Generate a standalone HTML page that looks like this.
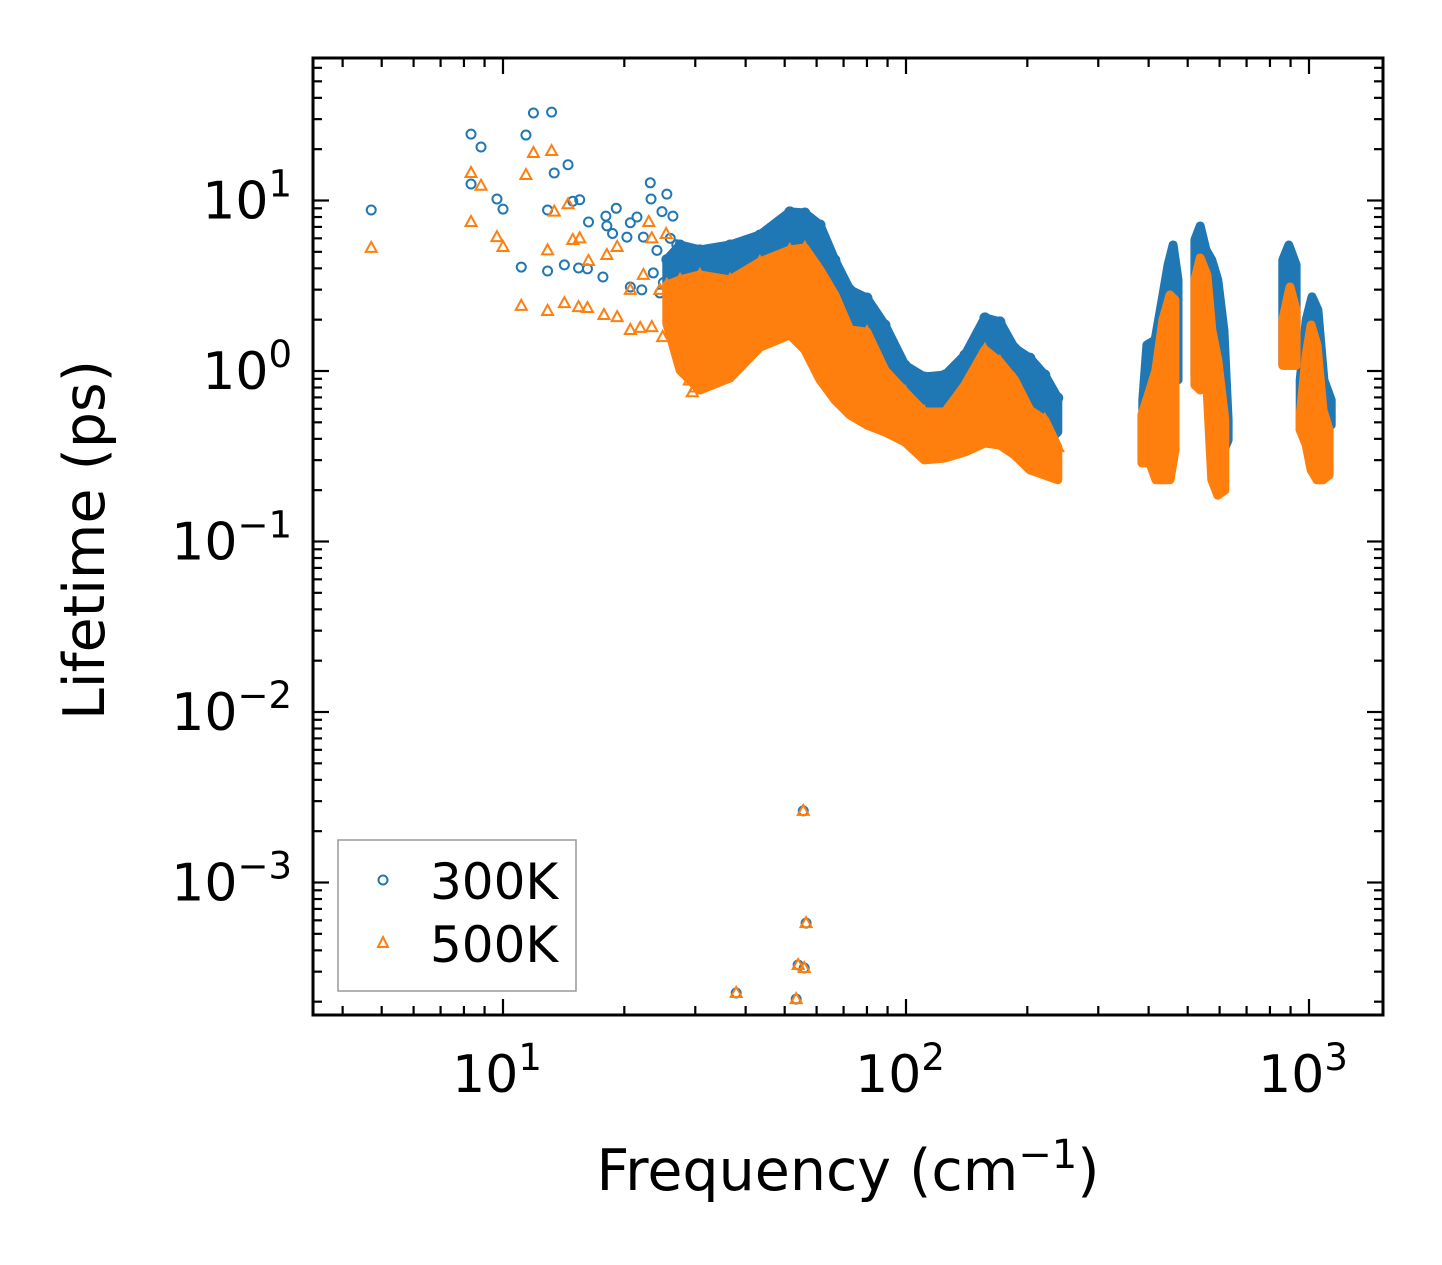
<!DOCTYPE html>
<html><head><meta charset="utf-8">
<style>
html,body{margin:0;padding:0;background:#fff;}
svg{display:block;font-family:"DejaVu Sans","Liberation Sans",sans-serif;}
</style></head>
<body>
<svg id="chart" width="1442" height="1265" viewBox="0 0 1442 1265" xmlns="http://www.w3.org/2000/svg">
<rect width="1442" height="1265" fill="#fff"/>
<g id="marks"></g>
<g id="axes"></g>
<text x="848" y="1190" font-size="57" text-anchor="middle">Frequency (cm<tspan dy="-22" font-size="40">−1</tspan><tspan dy="22">)</tspan></text>
<text transform="translate(104,540) rotate(-90)" font-size="57" text-anchor="middle">Lifetime (ps)</text>
<g>
<rect x="338" y="840" width="238" height="151" fill="#fff" stroke="#999" stroke-width="1.5"/>
<circle cx="383" cy="880" r="4.5" fill="none" stroke="#1f77b4" stroke-width="2"/>
<text x="430" y="899" font-size="50">300K</text>
<polygon points="383,937 388,947 378,947" fill="none" stroke="#ff7f0e" stroke-width="2"/>
<text x="430" y="962" font-size="50">500K</text>
</g>
</svg>
<script>
// ---- data ----
const scatterFreq300 = [4.71,8.33,8.82,8.33,9.66,10,11.9,13.2,11.4,14.5,13.4,12.9,14.9,15.5,11.1,12.9,14.2,15.4,16.3,16.2,18.0,18.1,19.1,23.2,25.5,23.3,24.8,26.4,20.7,21.5,18.7,20.3,22.3,17.7,20.7,23.6,22.1,24.5,24.1,26.0,27.0,25.0,28.0];
const scatterLife300 = [8.8,24.5,20.6,12.5,10.2,8.9,32.6,33.0,24.2,16.2,14.5,8.8,9.9,10.1,4.07,3.86,4.19,4.02,7.48,3.97,8.1,7.1,9.0,12.7,10.9,10.2,8.6,8.1,7.4,8.0,6.4,6.1,6.1,3.56,3.11,3.76,2.99,2.87,5.1,6.0,5.5,3.3,2.2];
const scatterFreq500 = [4.71,8.33,8.82,8.33,9.66,10,11.9,13.2,11.4,12.9,13.4,14.5,14.9,15.5,11.1,12.9,14.2,15.4,16.2,16.3,17.8,19.2,18.1,19.2,23.0,23.4,25.4,20.7,21.9,23.4,24.9,24.5,20.7,22.3,26.4,28.6,29.0,30.0,29.5,27.0];
const scatterLife500 = [5.27,14.5,12.2,7.48,6.1,5.34,19.0,19.5,14.1,5.1,8.6,9.5,5.87,6.0,2.41,2.25,2.5,2.37,2.34,4.42,2.13,2.07,4.79,5.34,7.48,6.0,6.36,1.74,1.79,1.81,1.58,2.99,2.99,3.66,1.91,1.27,0.88,0.8,0.75,1.5];
const outlierFreq = [55.6,56.5,54.0,55.9,37.9,53.4];
const outlierLife = [0.00263,0.000578,0.000328,0.000315,0.000225,0.000207];

const bandFreq = [25.5,27.5,30.8,36.6,43.4,51.5,56.1,61.2,66.6,72.6,80.0,88.7,99.5,111,125,140,157,171,186,203,221,238];
const bandUpper300 = [4.5,5.48,5.13,5.48,6.28,8.57,8.45,7.18,4.48,2.99,2.68,1.86,1.08,0.922,0.948,1.24,2.05,1.94,1.36,1.19,0.948,0.695];
const bandLower300 = [3.0,1.99,1.63,1.99,2.28,2.61,2.28,1.52,1.08,0.885,0.723,0.632,0.516,0.421,0.394,0.421,0.516,0.516,0.451,0.394,0.368,0.439];
const bandUpper500 = [3.2,3.42,3.66,3.42,4.36,5.13,5.27,3.91,2.79,1.74,1.69,1.01,0.753,0.575,0.575,0.828,1.33,1.13,0.885,0.59,0.516,0.358];
const bandLower500 = [1.9,1.01,0.774,0.91,1.38,1.63,1.33,0.885,0.676,0.552,0.482,0.439,0.383,0.301,0.309,0.335,0.378,0.368,0.321,0.263,0.245,0.23];

const hiFreq300 = [[387,396,415,432,447,460,473],[521,537,555,574,594,615,630],[861,891,929],[951,984,1017,1052,1089,1135]];
const hiUpper300 = [[0.676,1.42,1.52,2.61,4.19,5.48,3.42],[5.87,7.09,5.13,4.48,3.42,1.74,0.516],[4.48,5.48,4.19],[0.885,1.99,2.72,2.28,0.885,0.676]];
const hiLower300 = [[0.516,0.451,0.451,0.516,0.676,0.885,0.885],[0.948,0.885,0.885,0.516,0.344,0.344,0.394],[1.08,1.08,1.08],[0.451,0.394,0.394,0.451,0.451,0.482]];
const hiFreq500 = [[385,403,417,434,452,465],[521,537,558,574,594,618],[861,897,929],[951,984,1012,1047,1083,1122]];
const hiUpper500 = [[0.552,0.774,1.01,1.99,2.79,2.61],[3.42,4.6,3.66,1.74,1.16,0.516],[1.99,3.11,2.28],[0.552,1.24,1.86,1.42,0.59,0.451]];
const hiLower500 = [[0.289,0.289,0.23,0.23,0.23,0.344],[0.828,0.774,0.828,0.23,0.187,0.2],[1.08,1.08,1.08],[0.451,0.368,0.263,0.23,0.23,0.245]];

// ---- axes ----
const X0=503, XD=403, Y0=371, YD=170.5;
const L=313,R=1383,T=58,B=1015;
const xs = f => X0 + XD*Math.log10(f/10);
const ys = v => Y0 - YD*Math.log10(v);
const NS="http://www.w3.org/2000/svg";
const C3="#1f77b4", C5="#ff7f0e";
const marks=document.getElementById('marks');
const axes=document.getElementById('axes');
function mk(tag,attrs,parent){const e=document.createElementNS(NS,tag);for(const k in attrs)e.setAttribute(k,attrs[k]);parent.appendChild(e);return e;}

const clip=mk('clipPath',{id:'pc'},marks);
mk('rect',{x:L,y:T,width:R-L,height:B-T},clip);
marks.setAttribute('clip-path','url(#pc)');

function band(fr,up,lo,color,name){
  const pts=[];
  for(let i=0;i<fr.length;i++)pts.push(xs(fr[i]).toFixed(1)+','+ys(up[i]).toFixed(1));
  for(let i=fr.length-1;i>=0;i--)pts.push(xs(fr[i]).toFixed(1)+','+ys(lo[i]).toFixed(1));
  const p=mk('polygon',{points:pts.join(' '),fill:color,stroke:color,'stroke-width':9,'stroke-linejoin':'round'},marks);
  
  
}
function circle(f,v,name){
  const c=mk('circle',{cx:xs(f),cy:ys(v),r:4.5,fill:'none',stroke:C3,'stroke-width':2},marks);
  
  
}
function tri(f,v,name){
  const x=xs(f),y=ys(v);
  const t=mk('polygon',{points:`${x},${y-6} ${x+5.5},${y+4} ${x-5.5},${y+4}`,fill:'none',stroke:C5,'stroke-width':2},marks);
  
  
}
// 300K
band(bandFreq,bandUpper300,bandLower300,C3,'band-300k');
hiFreq300.forEach((fr,k)=>band(fr,hiUpper300[k],hiLower300[k],C3,'cluster-300k'));
scatterFreq300.forEach((f,i)=>circle(f,scatterLife300[i],'point-300k'));
bandFreq.forEach((f,i)=>circle(f,bandUpper300[i],'point-300k'));
outlierFreq.forEach((f,i)=>circle(f,outlierLife[i],'point-300k'));
// 500K
band(bandFreq,bandUpper500,bandLower500,C5,'band-500k');
hiFreq500.forEach((fr,k)=>band(fr,hiUpper500[k],hiLower500[k],C5,'cluster-500k'));
scatterFreq500.forEach((f,i)=>tri(f,scatterLife500[i],'point-500k'));
bandFreq.forEach((f,i)=>tri(f,bandUpper500[i],'point-500k'));
outlierFreq.forEach((f,i)=>tri(f,outlierLife[i],'point-500k'));

// ticks
const xMajor=[10,100,1000], xLabels=['1','2','3'];
const yMajor=[10,1,0.1,0.01,0.001], yLabels=['1','0','−1','−2','−3'];
function line(x1,y1,x2,y2,w,name){const l=mk('line',{x1,y1,x2,y2,stroke:'#000','stroke-width':w},axes);}
for(let d=1;d<=1000;d*=10){for(let m=1;m<10;m++){const f=d*m;const x=xs(f);if(x<L||x>R)continue;const len=m===1?16:9;
  line(x,B,x,B-len,2.2,'x-tick');line(x,T,x,T+len,2.2,'x-tick');}}
for(let d=1e-4;d<=100;d*=10){for(let m=1;m<10;m++){const v=d*m;const y=ys(v);if(y<T||y>B)continue;const len=m===1?16:9;
  line(L,y,L+len,y,2.2,'y-tick');line(R,y,R-len,y,2.2,'y-tick');}}
const fr=mk('rect',{x:L,y:T,width:R-L,height:B-T,fill:'none',stroke:'#000','stroke-width':3},axes);


xMajor.forEach((f,i)=>{const t=mk('text',{x:xs(f)-6,y:1092,'font-size':52,'text-anchor':'middle'},axes);
  
  
  t.innerHTML='10<tspan dy="-22" font-size="37">'+xLabels[i]+'</tspan>';});
yMajor.forEach((v,i)=>{const t=mk('text',{x:292,y:ys(v)+18,'font-size':52,'text-anchor':'end'},axes);
  
  
  t.innerHTML='10<tspan dy="-22" font-size="37">'+yLabels[i]+'</tspan>';});
</script>
</body></html>
